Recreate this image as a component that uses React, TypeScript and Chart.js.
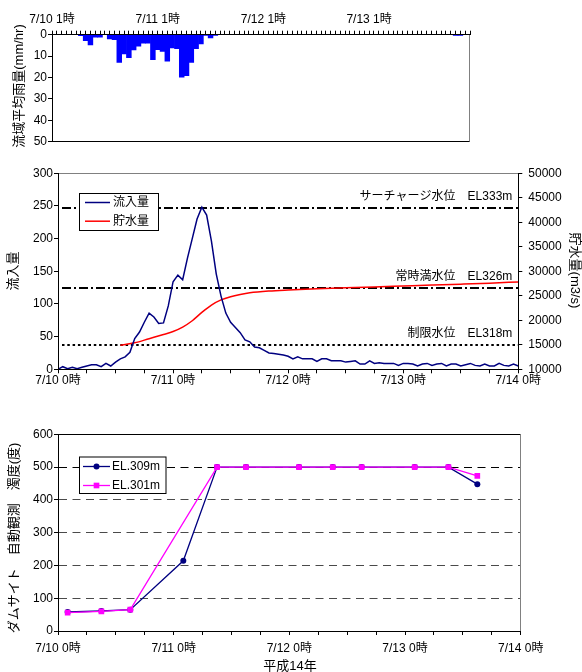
import { useEffect, useRef } from 'react';
import { Chart, registerables } from 'chart.js';

Chart.register(...registerables);

const FONT = "'Liberation Sans', 'Noto Sans CJK JP', sans-serif";
Chart.defaults.font.family = FONT;
Chart.defaults.font.size = 12;
Chart.defaults.color = '#000';

const TICK_FONT = { family: FONT, size: 12 };
const TITLE_FONT = `13px ${FONT}`;
const LEGEND_FONT = `12px ${FONT}`;
const LEVEL_FONT = `12px ${FONT}`;

// ---- Basin average rainfall (mm/hr), one bar per slot ----
const rainfall = [
  0, 0, 0, 0, 0, 0, 0.5, 2.8, 4.8, 1.2,
  1.2, 0, 2.0, 2.3, 13, 9, 10.7, 7.1, 5.4, 3.9,
  3.9, 11.7, 7, 7.8, 12.4, 6.2, 6.5, 19.8, 19.1, 12.9,
  6.5, 4.3, 0.3, 1.5, 0.3, 0, 0, 0, 0, 0,
  0, 0, 0, 0, 0, 0, 0, 0, 0, 0,
  0, 0, 0, 0, 0, 0, 0, 0, 0, 0,
  0, 0, 0, 0, 0, 0, 0, 0, 0, 0,
  0, 0, 0, 0, 0, 0, 0, 0, 0, 0,
  0, 0, 0, 0, 0.3, 0.3, 0, 0,
];
const rainLabelSlots = [0, 22, 44, 66];
const rainLabelTexts = ['7/10 1時', '7/11 1時', '7/12 1時', '7/13 1時'];

// ---- Inflow (hourly from 7/10 0時) ----
const inflow = [
  0, 4, 1, 3, 1, 3, 5, 7, 7, 4,
  9, 5, 11, 16, 19, 26, 47, 57, 72, 86,
  80, 70, 71, 97, 134, 144, 137, 170, 200, 230,
  248, 236, 196, 146, 112, 86, 72, 64, 56, 45,
  42, 34, 33, 29, 25, 24, 23, 22, 20, 16,
  19, 16, 16, 16, 12, 16, 16, 13, 13, 13,
  11, 12, 13, 8, 8, 13, 9, 10, 9, 9,
  9, 6, 9, 9, 8, 5, 8, 9, 6, 8,
  9, 5, 8, 8, 5, 7, 9, 6, 5, 8,
  5, 5, 9, 6, 5, 8, 5,
];

// ---- Storage, read at selected hours ----
const storageHours = [13, 16, 19, 22, 24, 26, 28, 30, 32, 34, 36, 38, 40, 44, 48, 54, 60, 66, 72, 78, 84, 90, 96];
const storageValues = [14900, 15400, 16250, 17100, 17700, 18600, 19900, 21600, 23100, 24150, 24800, 25250, 25600, 25970, 26180, 26420, 26620, 26810, 26990, 27170, 27360, 27570, 27830];

// ---- Reservoir reference levels (as storage) ----
const levelValues = [42850, 26650, 15050];
const levelLabels = ['サーチャージ水位　EL333m', '常時満水位　EL326m', '制限水位　EL318m'];
const LEVEL_DASHES = [[9, 3, 2, 3], [9, 3, 2, 3], [2.5, 2.8]];

// ---- Day ticks for the time axes ----
const dayTickHours = [0, 24, 48, 72, 96];
const dayTickLabels = ['7/10 0時', '7/11 0時', '7/12 0時', '7/13 0時', '7/14 0時'];

// ---- Turbidity at the dam site ----
const obsHours = [2, 9, 15, 26, 33, 39, 50, 57, 63, 74, 81, 87];
const turbidity309 = [58, 61, 65, 214, 500, 500, 500, 500, 500, 500, 500, 448];
const turbidity301 = [56, 60, 65, null, 500, 500, 500, 500, 500, 500, 500, 473];

const sixHourTicks = Array.from({ length: 17 }, (_, i) => i * 6);
const dayLabel = (v: number) => {
  const k = dayTickHours.indexOf(v);
  return k >= 0 ? dayTickLabels[k] : '';
};
const plainNumber = (v: number | string) => String(v);

type TitleSpec = { text: string; x: number; y: number; rotation: number };
function titlesPlugin(items: TitleSpec[]) {
  return {
    id: 'axisTitles',
    afterDraw(chart: any) {
      const ctx = chart.ctx;
      items.forEach((t) => {
        ctx.save();
        ctx.translate(t.x, t.y);
        ctx.rotate(t.rotation);
        ctx.font = TITLE_FONT;
        ctx.fillStyle = '#000';
        ctx.textAlign = 'center';
        ctx.textBaseline = 'middle';
        ctx.fillText(t.text, 0, 0);
        ctx.restore();
      });
    },
  };
}

type FrameSpec = { top?: string; right?: string; bottom?: string };
function framePlugin(sides: FrameSpec) {
  return {
    id: 'frame',
    afterDatasetsDraw(chart: any) {
      const { ctx, chartArea: a } = chart;
      ctx.save();
      ctx.lineWidth = 1;
      const seg = (color: string, x1: number, y1: number, x2: number, y2: number) => {
        ctx.strokeStyle = color;
        ctx.beginPath();
        ctx.moveTo(x1, y1);
        ctx.lineTo(x2, y2);
        ctx.stroke();
      };
      const t = Math.round(a.top) + 0.5;
      const b = Math.round(a.bottom) - 0.5;
      const r = Math.round(a.right) - 0.5;
      if (sides.top) seg(sides.top, a.left, t, a.right, t);
      if (sides.bottom) seg(sides.bottom, a.left, b, a.right, b);
      if (sides.right) seg(sides.right, r, a.top, r, a.bottom);
      ctx.restore();
    },
  };
}

type LegendBox = { x: number; y: number; w: number; h: number; row0: number; rowGap: number; lineX0: number; lineX1: number; textX: number };
function legendPlugin(box: LegendBox) {
  return {
    id: 'boxLegend',
    afterDraw(chart: any) {
      const ctx = chart.ctx;
      ctx.save();
      ctx.fillStyle = '#fff';
      ctx.fillRect(box.x, box.y, box.w, box.h);
      ctx.strokeStyle = '#000';
      ctx.lineWidth = 1;
      ctx.strokeRect(box.x + 0.5, box.y + 0.5, box.w, box.h);
      chart.data.datasets.forEach((ds: any, i: number) => {
        const y = box.y + box.row0 + i * box.rowGap;
        ctx.strokeStyle = ds.borderColor;
        ctx.lineWidth = ds.borderWidth;
        ctx.beginPath();
        ctx.moveTo(box.lineX0, y);
        ctx.lineTo(box.lineX1, y);
        ctx.stroke();
        if (ds.pointRadius > 0) {
          const cx = (box.lineX0 + box.lineX1) / 2;
          ctx.fillStyle = ds.backgroundColor;
          if (ds.pointStyle === 'rect') {
            const s = ds.pointRadius * Math.SQRT1_2;
            ctx.fillRect(cx - s, y - s, 2 * s, 2 * s);
          } else {
            ctx.beginPath();
            ctx.arc(cx, y, ds.pointRadius, 0, Math.PI * 2);
            ctx.fill();
          }
        }
        ctx.fillStyle = '#000';
        ctx.font = LEGEND_FONT;
        ctx.textAlign = 'left';
        ctx.textBaseline = 'middle';
        ctx.fillText(ds.label, box.textX, y);
      });
      ctx.restore();
    },
  };
}

const levelsPlugin = {
  id: 'levels',
  beforeDatasetsDraw(chart: any) {
    const { ctx, chartArea: a, scales } = chart;
    levelValues.forEach((v, i) => {
      const y = Math.round(scales.y1.getPixelForValue(v));
      ctx.save();
      ctx.strokeStyle = '#000';
      ctx.lineWidth = 2;
      ctx.setLineDash(LEVEL_DASHES[i]);
      ctx.beginPath();
      ctx.moveTo(a.left + 4, y);
      ctx.lineTo(a.right, y);
      ctx.stroke();
      ctx.setLineDash([]);
      ctx.fillStyle = '#000';
      ctx.font = LEVEL_FONT;
      ctx.textAlign = 'right';
      ctx.textBaseline = 'middle';
      ctx.fillText(levelLabels[i], a.right - 6, y - 11);
      ctx.restore();
    });
  },
};

const axisGrid = { drawOnChartArea: false, drawTicks: true, tickLength: 4, tickColor: '#000', tickWidth: 1 };
const axisBorder = { display: true, color: '#000', width: 1, z: 1 };

function rainConfig(): any {
  const labels = rainfall.map((_, i) => {
    const k = rainLabelSlots.indexOf(i);
    return k >= 0 ? rainLabelTexts[k] : '';
  });
  return {
    type: 'bar',
    data: {
      labels,
      datasets: [{ data: rainfall, backgroundColor: '#0000ff', borderWidth: 0, barPercentage: 1, categoryPercentage: 1 }],
    },
    options: {
      animation: false,
      responsive: false,
      events: [],
      layout: { padding: { left: 0, right: 112, top: 0, bottom: 8.3 } },
      plugins: { legend: { display: false }, tooltip: { enabled: false } },
      scales: {
        x: {
          type: 'category',
          position: 'top',
          offset: false,
          grid: { ...axisGrid, offset: false },
          border: axisBorder,
          ticks: { autoSkip: false, maxRotation: 0, minRotation: 0, padding: 4, font: TICK_FONT, color: '#000' },
          afterFit: (s: any) => { s.height = 34.7; },
        },
        y: {
          min: 0,
          max: 50,
          reverse: true,
          grid: axisGrid,
          border: axisBorder,
          ticks: { stepSize: 10, padding: 1, font: TICK_FONT, color: '#000', callback: plainNumber },
          afterFit: (s: any) => { s.width = 52; },
        },
      },
    },
    plugins: [
      framePlugin({ right: '#808080', bottom: '#000' }),
      titlesPlugin([{ text: '流域平均雨量(mm/hr)', x: 19, y: 86, rotation: -Math.PI / 2 }]),
    ],
  };
}

function flowConfig(): any {
  return {
    type: 'line',
    data: {
      datasets: [
        {
          label: '流入量',
          data: inflow.map((v, i) => ({ x: i, y: v })),
          yAxisID: 'y',
          borderColor: '#000080',
          backgroundColor: '#000080',
          borderWidth: 1.5,
          pointRadius: 0,
          tension: 0,
        },
        {
          label: '貯水量',
          data: storageHours.map((h, i) => ({ x: h, y: storageValues[i] })),
          yAxisID: 'y1',
          borderColor: '#ff0000',
          backgroundColor: '#ff0000',
          borderWidth: 1.5,
          pointRadius: 0,
          cubicInterpolationMode: 'monotone',
        },
      ],
    },
    options: {
      animation: false,
      responsive: false,
      events: [],
      layout: { padding: { top: 11.5, left: 0, right: 0, bottom: 0 } },
      plugins: { legend: { display: false }, tooltip: { enabled: false } },
      scales: {
        x: {
          type: 'linear',
          min: 0,
          max: 96,
          afterBuildTicks: (s: any) => { s.ticks = sixHourTicks.map((v) => ({ value: v })); },
          grid: axisGrid,
          border: axisBorder,
          ticks: { autoSkip: false, maxRotation: 0, minRotation: 0, padding: 0.5, font: TICK_FONT, color: '#000', callback: dayLabel },
          afterFit: (s: any) => { s.height = 30.7; },
        },
        y: {
          position: 'left',
          min: 0,
          max: 300,
          grid: axisGrid,
          border: axisBorder,
          ticks: { stepSize: 50, padding: 1, font: TICK_FONT, color: '#000', callback: plainNumber },
          afterFit: (s: any) => { s.width = 58; },
        },
        y1: {
          position: 'right',
          min: 10000,
          max: 50000,
          grid: axisGrid,
          border: axisBorder,
          ticks: { stepSize: 5000, padding: 6, font: TICK_FONT, color: '#000', callback: plainNumber },
          afterFit: (s: any) => { s.width = 63.7; },
        },
      },
    },
    plugins: [
      levelsPlugin,
      framePlugin({ top: '#808080' }),
      legendPlugin({ x: 79, y: 33, w: 79, h: 37, row0: 9.5, rowGap: 18.7, lineX0: 85, lineX1: 110, textX: 113 }),
      titlesPlugin([
        { text: '流入量', x: 13.3, y: 111, rotation: -Math.PI / 2 },
        { text: '貯水量(m3/s)', x: 574.5, y: 110.5, rotation: Math.PI / 2 },
      ]),
    ],
  };
}

function turbidityConfig(): any {
  return {
    type: 'line',
    data: {
      datasets: [
        {
          label: 'EL.309m',
          data: obsHours.map((h, i) => ({ x: h, y: turbidity309[i] })),
          borderColor: '#000080',
          backgroundColor: '#000080',
          borderWidth: 1.3,
          pointStyle: 'circle',
          pointRadius: 3,
          pointBorderWidth: 0,
          order: 1,
        },
        {
          label: 'EL.301m',
          data: obsHours.map((h, i) => ({ x: h, y: turbidity301[i] })),
          borderColor: '#ff00ff',
          backgroundColor: '#ff00ff',
          borderWidth: 1.3,
          pointStyle: 'rect',
          pointRadius: 4,
          pointBorderWidth: 0,
          spanGaps: true,
          order: 0,
        },
      ],
    },
    options: {
      animation: false,
      responsive: false,
      events: [],
      layout: { padding: { top: 14.3, left: 0, right: 61.3, bottom: 0 } },
      plugins: { legend: { display: false }, tooltip: { enabled: false } },
      scales: {
        x: {
          type: 'linear',
          min: 0,
          max: 96,
          afterBuildTicks: (s: any) => { s.ticks = sixHourTicks.map((v) => ({ value: v })); },
          grid: axisGrid,
          border: axisBorder,
          ticks: { autoSkip: false, maxRotation: 0, minRotation: 0, padding: 6.8, font: TICK_FONT, color: '#000', callback: dayLabel },
          afterFit: (s: any) => { s.height = 41; },
        },
        y: {
          min: 0,
          max: 600,
          grid: {
            drawOnChartArea: true,
            drawTicks: true,
            tickLength: 4,
            tickColor: '#000',
            lineWidth: 1,
            color: (c: any) => {
              const v = c.tick ? c.tick.value : 0;
              if (v <= 0 || v >= 600) return 'rgba(0,0,0,0)';
              return v === 500 ? '#000' : '#4a4a4a';
            },
          },
          border: { display: true, color: '#000', width: 1, z: 1, dash: [8, 5.5] },
          ticks: { stepSize: 100, padding: 1, font: TICK_FONT, color: '#000', callback: plainNumber },
          afterFit: (s: any) => { s.width = 58; },
        },
      },
    },
    plugins: [
      framePlugin({ top: '#000', right: '#808080' }),
      legendPlugin({ x: 79, y: 36.5, w: 86.5, h: 36.5, row0: 10, rowGap: 19, lineX0: 83, lineX1: 110, textX: 112 }),
      titlesPlugin([
        { text: 'ダムサイト　自動観測　濁度(度)', x: 14.2, y: 118, rotation: -Math.PI / 2 },
        { text: '平成14年', x: 290, y: 246, rotation: 0 },
      ]),
    ],
  };
}

function ChartPanel({ top, height, build }: { top: number; height: number; build: () => any }) {
  const ref = useRef<HTMLCanvasElement>(null);
  useEffect(() => {
    if (!ref.current) return;
    const chart = new Chart(ref.current, build());
    return () => chart.destroy();
  }, []);
  return (
    <div style={{ position: 'absolute', left: 0, top, width: 582, height }}>
      <canvas ref={ref} width={582} height={height} style={{ display: 'block' }} />
    </div>
  );
}

export default function App() {
  return (
    <div>
      <ChartPanel top={0} height={150} build={rainConfig} />
      <ChartPanel top={160} height={240} build={flowConfig} />
      <ChartPanel top={420} height={252} build={turbidityConfig} />
    </div>
  );
}
